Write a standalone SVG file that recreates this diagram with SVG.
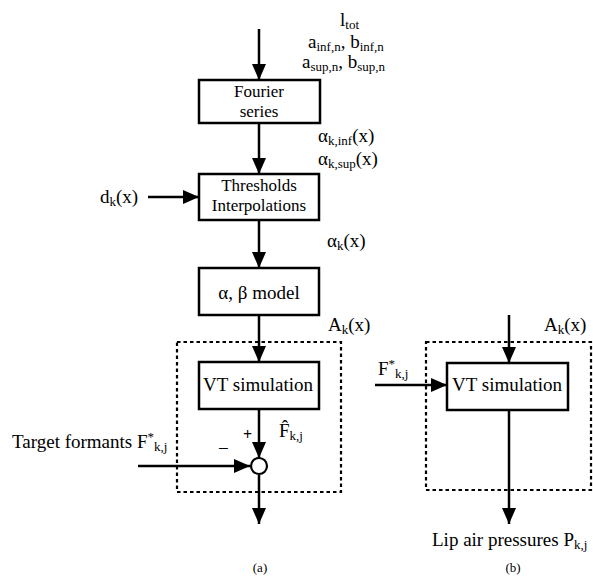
<svg xmlns="http://www.w3.org/2000/svg" width="593" height="576" viewBox="0 0 593 576">
<defs>
<marker id="ah" viewBox="0 0 16 14" refX="16" refY="7" markerWidth="16" markerHeight="14" markerUnits="userSpaceOnUse" orient="auto">
<path d="M0,0 L16,7 L0,14 Z" fill="#000"/>
</marker>
</defs>
<style>
text{font-family:'Liberation Serif','Times New Roman',serif;font-size:19px;fill:#000}
.c{text-anchor:middle}
.t{font-size:17px}
.s{font-size:13px}
.box{fill:#fff;stroke:#000;stroke-width:2.5}
.dash{fill:none;stroke:#000;stroke-width:2.2;stroke-dasharray:3.5 3}
.ar{fill:none;stroke:#000;stroke-width:2.5;marker-end:url(#ah)}
</style>
<rect width="593" height="576" fill="#fff"/>

<g id="frame-a"><rect class="dash" x="177" y="342" width="164" height="150"/></g>
<g id="frame-b"><rect class="dash" x="426" y="342" width="165" height="148"/></g>

<g id="connectors">
<line class="ar" x1="259" y1="29" x2="259" y2="80"/>
<line class="ar" x1="259" y1="123" x2="259" y2="174"/>
<line class="ar" x1="148" y1="197" x2="199" y2="197"/>
<line class="ar" x1="259" y1="220" x2="259" y2="268"/>
<line class="ar" x1="259" y1="315" x2="259" y2="362"/>
<line class="ar" x1="259" y1="409" x2="259" y2="458"/>
<line class="ar" x1="138" y1="466" x2="250" y2="466"/>
<line class="ar" x1="259" y1="475" x2="259" y2="524"/>
<line class="ar" x1="509" y1="315" x2="509" y2="363"/>
<line class="ar" x1="375" y1="385" x2="447" y2="385"/>
<line class="ar" x1="509" y1="410" x2="509" y2="524"/>
</g>

<g id="fourier">
<rect class="box" x="199" y="80" width="121" height="43"/>
<text class="c t" x="259" y="97">Fourier</text>
<text class="c t" x="259" y="116.5">series</text>
</g>

<g id="thresholds">
<rect class="box" x="199" y="174" width="120" height="46"/>
<text class="c t" x="259" y="191">Thresholds</text>
<text class="c t" x="259" y="210.5">Interpolations</text>
</g>

<g id="model">
<rect class="box" x="199" y="268" width="120" height="47"/>
<text class="c" x="259" y="299">α, β model</text>
</g>

<g id="vt-a">
<rect class="box" x="199" y="362" width="120" height="47"/>
<text class="c" x="258" y="391">VT simulation</text>
</g>

<g id="sum">
<circle cx="259" cy="466" r="8" fill="#fff" stroke="#000" stroke-width="2.2"/>
<text x="243" y="440" style="font-size:16px;font-weight:bold">+</text>
<text x="218" y="455">−</text>
</g>

<g id="vt-b">
<rect class="box" x="447" y="363" width="121" height="47"/>
<text class="c" x="507" y="391">VT simulation</text>
</g>

<g id="labels">
<text x="340" y="26">l<tspan class="s" dy="3">tot</tspan></text>
<text x="308" y="48">a<tspan class="s" dy="3">inf,n</tspan><tspan dy="-3">, b</tspan><tspan class="s" dy="3">inf,n</tspan></text>
<text x="302" y="68">a<tspan class="s" dy="3">sup,n</tspan><tspan dy="-3">, b</tspan><tspan class="s" dy="3">sup,n</tspan></text>
<text x="318" y="142">α<tspan class="s" dy="3">k,inf</tspan><tspan dy="-3">(x)</tspan></text>
<text x="318" y="165">α<tspan class="s" dy="3">k,sup</tspan><tspan dy="-3">(x)</tspan></text>
<text x="100" y="203">d<tspan class="s" dy="3">k</tspan><tspan dy="-3">(x)</tspan></text>
<text x="327" y="247">α<tspan class="s" dy="3">k</tspan><tspan dy="-3">(x)</tspan></text>
<text x="328" y="331">A<tspan class="s" dy="3">k</tspan><tspan dy="-3">(x)</tspan></text>
<text x="279" y="437">F̂<tspan class="s" dy="3">k,j</tspan></text>
<text x="12" y="448">Target formants F<tspan class="s" dy="-7">*</tspan><tspan class="s" dy="10">k,j</tspan></text>
<text x="544" y="331">A<tspan class="s" dy="3">k</tspan><tspan dy="-3">(x)</tspan></text>
<text x="378" y="375">F<tspan class="s" dy="-7">*</tspan><tspan class="s" dy="10">k,j</tspan></text>
<text x="432" y="546">Lip air pressures P<tspan class="s" dy="3">k,j</tspan></text>
<text class="c" x="260" y="572" style="font-size:13px">(a)</text>
<text class="c" x="513" y="572" style="font-size:13px">(b)</text>
</g>
</svg>
